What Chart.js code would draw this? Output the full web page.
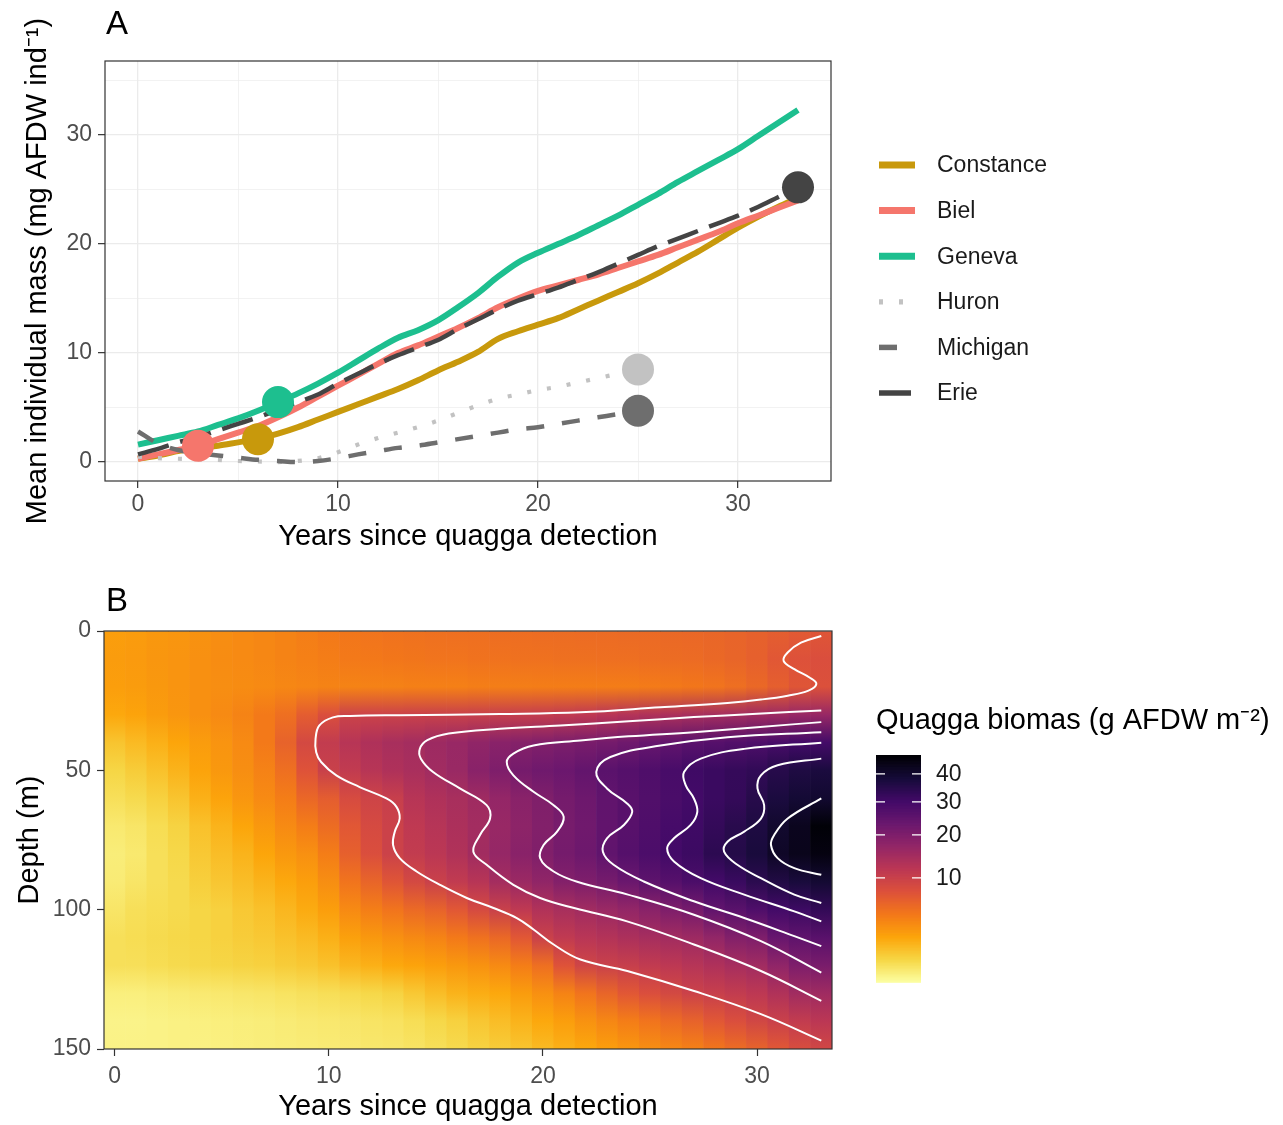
<!DOCTYPE html>
<html>
<head>
<meta charset="utf-8">
<script src="https://cdn.jsdelivr.net/npm/chart.js@4.4.1/dist/chart.umd.min.js"></script>
<style>
  html, body { margin: 0; padding: 0; background: #ffffff; }
  #wrap { position: relative; width: 1283px; height: 1125px; }
  canvas { position: absolute; left: 0; }
  #massChart { top: 0; }
  #depthChart { top: 570px; }
</style>
</head>
<body>
<div id="wrap">
  <canvas id="massChart" width="1283" height="570"></canvas>
  <canvas id="depthChart" width="1283" height="555"></canvas>
</div>
<script>
// ---------- Panel A: mean individual mass per lake ----------
const years = [0,1,2,3,4,5,6,7,8,9,10,11,12,13,14,15,16,17,18,19,20,21,22,23,24,25,26,27,28,29,30,31,32,33];
const lakes = ['Constance', 'Biel', 'Geneva', 'Huron', 'Michigan', 'Erie'];

const massConstance = [0.3,0.6,1.0,1.3,1.5,1.8,2.1,2.6,3.2,3.9,4.6,5.3,6.0,6.7,7.5,8.4,9.2,10.1,11.3,12.0,12.6,13.2,14.0,14.8,15.6,16.4,17.3,18.3,19.3,20.4,21.5,22.5,23.4,24.2];
const massBiel      = [0.3,0.7,1.1,1.5,2.1,2.7,3.3,4.1,5.0,6.0,7.0,8.0,9.0,10.0,10.7,11.5,12.3,13.2,14.2,15.0,15.7,16.2,16.7,17.2,17.8,18.4,19.0,19.7,20.4,21.1,21.9,22.6,23.3,24.0];
const massGeneva    = [1.6,2.0,2.4,2.8,3.4,4.0,4.7,5.5,6.3,7.2,8.2,9.3,10.4,11.4,12.1,13.0,14.2,15.5,17.0,18.3,19.2,20.0,20.8,21.7,22.6,23.6,24.6,25.7,26.7,27.7,28.7,29.9,31.1,32.3];
const massHuron     = [0.5,0.35,0.3,0.25,0.2,0.1,0.05,0.0,0.1,0.35,0.9,1.6,2.2,2.7,3.2,3.8,4.5,5.2,5.8,6.2,6.6,6.9,7.3,7.7,8.1,8.5];
const massMichigan  = [2.8,1.7,1.1,0.8,0.6,0.4,0.2,0.1,0.0,0.1,0.35,0.7,1.0,1.3,1.5,1.8,2.1,2.4,2.7,3.0,3.2,3.5,3.8,4.1,4.4,4.7];
const massErie      = [0.7,1.2,1.8,2.3,2.9,3.5,4.1,4.8,5.5,6.2,7.2,8.1,9.0,9.8,10.5,11.2,12.2,13.1,14.0,14.8,15.4,16.0,16.7,17.4,18.2,19.0,19.8,20.5,21.2,21.9,22.6,23.4,24.3,25.2];
const markerYears   = [6, 3, 7, 25, 25, 33];

const massTicksX = [0, 5, 10, 15, 20, 25, 30];
const massTicksY = [0, 5, 10, 15, 20, 25, 30, 35];

// ---------- Panel B: biomass by depth and year ----------
const depthRows = [0,10,20,30,40,50,60,70,80,90,100,110,120,130,140,150];
const bio000 = [2.2,2.3,2.5,2.6,2.8,3.0,3.2,3.4,3.6,3.9,4.2,4.4,4.6,4.7,4.8,4.9,5.0,5.0,5.1,5.1,5.2,5.2,5.3,5.3,5.4,5.4,5.5,5.6,5.7,5.9,6.1,6.4,6.8,7.2];
const bio010 = [2.3,2.4,2.6,2.7,2.9,3.1,3.2,3.4,3.6,3.8,4.0,4.2,4.3,4.4,4.5,4.6,4.6,4.7,4.7,4.8,4.8,4.9,4.9,5.0,5.0,5.1,5.2,5.3,5.5,5.8,6.2,7.0,7.6,8.0];
const bio020 = [2.2,2.3,2.5,2.7,2.9,3.0,3.1,3.2,3.4,3.5,3.6,3.6,3.7,3.7,3.8,3.8,3.8,3.9,3.9,3.9,4.0,4.0,4.0,4.0,4.0,4.1,4.2,4.4,4.6,5.0,5.5,6.3,7.2,7.8];
const bio030 = [1.8,2.0,2.3,2.6,2.9,3.2,3.6,4.2,5.0,6.5,8.0,9.8,9.9,10.0,10.1,10.2,10.2,10.3,10.5,10.7,10.8,11.2,11.5,12.3,12.8,13.3,13.8,14.3,14.7,15.0,15.5,15.8,16.5,16.5];
const bio040 = [0.9,1.2,1.5,1.9,2.3,2.7,3.2,4.2,6.0,8.8,11.0,12.5,13.5,14.3,14.8,15.8,16.5,17.5,18.5,19.2,19.8,20.5,21.0,21.5,22.5,23.8,24.8,26.0,26.8,27.5,28.2,29.3,30.5,30.0];
const bio050 = [0.5,0.7,1.0,1.4,2.0,2.5,3.0,3.7,5.0,7.5,10.2,11.2,12.5,13.5,14.2,15.3,16.3,18.5,20.2,21.5,22.5,23.2,24.5,26.0,27.0,28.0,29.3,31.0,31.8,32.8,33.5,35.3,36.8,37.5];
const bio060 = [0.3,0.4,0.6,0.9,1.5,2.0,2.6,3.2,4.0,5.6,6.5,8.5,9.6,10.4,12.5,13.5,14.3,15.5,17.0,18.5,20.1,21.5,22.8,24.8,26.3,27.6,29.0,30.2,31.8,33.0,35.3,37.5,39.2,40.0];
const bio070 = [0.15,0.2,0.35,0.55,1.0,1.4,1.9,2.5,3.2,4.0,5.2,7.0,8.6,9.9,11.5,12.6,13.8,15.0,16.5,18.0,19.6,21.2,22.3,24.7,26.5,28.0,29.8,31.0,33.0,35.0,37.0,40.3,43.0,47.0];
const bio080 = [0.1,0.15,0.3,0.45,0.8,1.1,1.4,1.9,2.5,2.9,4.0,6.2,8.0,9.9,11.0,12.0,13.3,15.2,16.8,18.5,19.9,21.5,22.8,25.0,27.0,28.5,30.3,31.5,34.3,35.8,38.0,41.5,43.5,45.5];
const bio090 = [0.12,0.2,0.3,0.4,0.65,0.85,1.1,1.4,1.8,2.2,3.0,4.6,5.8,7.2,8.8,10.1,11.2,12.5,14.8,16.0,17.5,19.5,20.2,21.5,23.3,25.5,26.8,28.8,30.2,32.0,34.6,36.5,38.0,39.5];
const bio100 = [0.2,0.3,0.35,0.4,0.5,0.6,0.8,1.0,1.3,1.7,2.2,3.2,3.9,4.6,5.4,6.0,7.0,8.6,10.2,11.5,13.2,14.3,15.2,16.2,17.2,18.6,20.2,21.4,24.9,26.2,28.0,30.2,31.3,33.2];
const bio110 = [0.3,0.35,0.4,0.45,0.5,0.6,0.7,0.8,1.0,1.2,1.5,2.1,2.5,2.9,3.3,3.6,4.2,4.8,5.5,7.0,10.1,11.3,12.3,13.0,13.8,14.6,15.1,15.8,17.3,19.6,20.2,23.8,25.2,26.3];
const bio120 = [0.3,0.3,0.35,0.4,0.45,0.5,0.55,0.6,0.7,0.8,1.0,1.3,1.5,1.8,2.0,2.2,2.5,2.8,3.2,4.0,5.0,7.5,9.4,10.1,10.5,11.2,11.8,12.6,13.5,14.4,15.3,17.6,20.2,21.0];
const bio130 = [0.08,0.08,0.1,0.12,0.14,0.16,0.18,0.2,0.24,0.28,0.32,0.38,0.45,0.55,0.8,1.1,1.4,1.6,1.8,2.3,2.9,3.6,4.6,5.8,7.0,8.0,8.9,9.9,10.4,11.0,11.8,13.3,15.2,15.5];
const bio140 = [0.04,0.04,0.05,0.06,0.07,0.08,0.09,0.1,0.12,0.14,0.16,0.18,0.22,0.25,0.33,0.45,0.6,0.85,1.1,1.4,1.8,2.2,2.8,3.4,4.0,4.6,5.3,6.0,7.0,8.0,9.2,10.1,11.0,12.0];
const bio150 = [0.05,0.05,0.05,0.06,0.06,0.07,0.08,0.09,0.1,0.11,0.12,0.14,0.17,0.18,0.22,0.3,0.4,0.55,0.7,0.9,1.2,1.5,1.8,2.2,2.6,3.0,3.4,3.8,4.5,5.2,6.0,7.0,8.2,9.2];

// Contour paths [year, depth] for levels 10..40 g AFDW m-2
const contour10 = [[33,1.8],[32.05,4.2],[31.43,7.7],[31.24,10.7],[31.74,13.7],[32.45,16.7],[32.77,19],[32.4,21.4],[31.43,23.2],[30.18,24.6],[28.62,25.8],[25.49,27.4],[21.75,29.2],[18,29.8],[13.3,30.2],[11,30.5],[10.19,31],[9.56,33.9],[9.38,38.7],[9.41,43.5],[9.64,47],[10.35,51.8],[11.44,56],[12.69,60.1],[13.16,63.1],[13.31,67.3],[13.08,72],[13.0,76.8],[13.31,81.5],[14.1,86.3],[15.19,91.1],[16.44,95.8],[17.69,99.4],[18.78,103],[19.56,107.1],[20.5,112.5],[21.75,117.9],[23.94,122],[27.06,129.2],[30.18,137.5],[33,147]];
const contour15 = [[33,28.5],[30,29.7],[27.05,30.9],[24,32.4],[20.81,33.9],[18,35.1],[15.6,36.8],[14.6,39.2],[14.25,42.3],[14.3,45.8],[14.87,50.6],[16.12,56.5],[17.37,62.5],[17.53,67.3],[17.06,73.2],[16.75,79.2],[17.37,83.9],[18.62,91.1],[19.87,95.8],[21.5,99.5],[23.93,104.2],[27.05,112.5],[30.18,122],[33,132.7]];
const contour20 = [[33,32.7],[30,34.5],[27.05,36.3],[24,37.8],[21.75,39.3],[19.56,41.1],[18.62,44],[18.31,47],[18.62,51.8],[19.56,57.7],[20.5,62.5],[20.97,66.7],[20.66,72],[20.03,76.8],[19.87,81.5],[20.5,86.3],[21.6,90],[23.93,94.5],[27.05,101.8],[30.18,111.3],[33,122.6]];
const contour25 = [[33,36.3],[28.62,38.1],[25.49,41.1],[23.15,45.2],[22.49,50.6],[22.99,56.5],[23.93,61.9],[24.17,64.9],[23.78,69.6],[22.99,74.4],[22.8,79.2],[23.3,83.9],[24.71,89.9],[27.05,97],[29.4,103],[31.74,109.5],[33,113.1]];
const contour30 = [[33,40.1],[29.4,42.3],[27.37,45.8],[26.59,50.6],[26.67,55.4],[27.05,60.1],[27.21,64.9],[26.9,69.6],[26.12,74.4],[25.8,78],[26.12,82.7],[27.37,88.7],[29.4,94.6],[31.74,100.6],[33,104.2]];
const contour35 = [[33,45.8],[30.96,48.2],[30.18,51.8],[30.02,56.5],[30.33,62.5],[30.18,67.3],[29.4,72],[28.62,75.6],[28.46,79.2],[29.08,83.9],[30.18,88.7],[31.74,94.6],[33,97.6]];
const contour40 = [[33,60.1],[31.43,67.3],[30.8,73.2],[30.65,76.8],[30.96,81.5],[31.74,85.1],[33,87.5]];

const depthTicksX = [0, 10, 20, 30];
const depthTicksY = [0, 50, 100, 150];
const colorbarTicks = [10, 20, 30, 40];
const bioMin = 0;
const bioMax = 47.6;

// ---------- shared styling ----------
const FONT = '"Liberation Sans", Arial, Helvetica, sans-serif';
Chart.defaults.font.family = FONT;

const massSeries = [massConstance, massBiel, massGeneva, massHuron, massMichigan, massErie];
const lakeColors = ['#C8990C', '#F5766C', '#1DBF8F', '#C2C2C2', '#6E6E6E', '#444444'];
const lakeWidths = [6, 6, 6, 4.2, 4.5, 4.5];
const lakeDashes = [[], [], [], [4, 16], [18, 18], [32, 12]];

const biomassByDepth = [bio000, bio010, bio020, bio030, bio040, bio050, bio060, bio070,
                        bio080, bio090, bio100, bio110, bio120, bio130, bio140, bio150];
const contourLevels = [contour10, contour15, contour20, contour25, contour30, contour35, contour40];

// inferno palette, read from high (dark) to low (light) through a square-root transform
const inferno = ['#000004','#160B39','#420A68','#6A176E','#932667','#BC3754',
                 '#DD513A','#F37819','#FCA50A','#F6D746','#FCFFA4'];
function hexToRgb(h) { return [parseInt(h.slice(1,3),16), parseInt(h.slice(3,5),16), parseInt(h.slice(5,7),16)]; }
const infernoRgb = inferno.map(hexToRgb);
function infernoAt(t) {
  t = Math.min(1, Math.max(0, t));
  const p = t * (infernoRgb.length - 1);
  const i = Math.min(infernoRgb.length - 2, Math.floor(p));
  const f = p - i;
  const a = infernoRgb[i], b = infernoRgb[i + 1];
  return 'rgb(' + a.map((c, k) => Math.round(c + (b[k] - c) * f)).join(',') + ')';
}
function sqrtPos(v) {
  return (Math.sqrt(Math.max(v, bioMin)) - Math.sqrt(bioMin)) / (Math.sqrt(bioMax) - Math.sqrt(bioMin));
}
function bioColor(v) { return infernoAt(1 - sqrtPos(v)); }

function fixedTicks(list) { return (scale) => { scale.ticks = list.map(v => ({ value: v })); }; }

// ---------- Panel A chart ----------
const lineSets = lakes.map((name, i) => ({
  label: name,
  data: massSeries[i].map((v, k) => ({ x: years[k], y: v })),
  borderColor: lakeColors[i],
  borderWidth: lakeWidths[i],
  borderDash: lakeDashes[i],
  borderCapStyle: 'butt',
  pointRadius: 0,
  fill: false,
  cubicInterpolationMode: 'monotone',
  order: 20 - i
}));
const markerSets = lakes.map((name, i) => ({
  label: name + ' start',
  data: [{ x: markerYears[i], y: massSeries[i][years.indexOf(markerYears[i])] }],
  showLine: false,
  pointRadius: 16,
  pointBackgroundColor: lakeColors[i],
  pointBorderWidth: 0,
  order: 1
}));

const massDecor = {
  id: 'massDecor',
  afterDatasetsDraw(chart) {
    const { ctx, chartArea: a } = chart;
    ctx.save();
    ctx.strokeStyle = '#333333';
    ctx.lineWidth = 1.2;
    ctx.strokeRect(a.left, a.top, a.right - a.left, a.bottom - a.top);
    ctx.restore();
  },
  afterDraw(chart) {
    const ctx = chart.ctx;
    ctx.save();
    ctx.fillStyle = '#000000';
    ctx.textAlign = 'left';
    ctx.textBaseline = 'alphabetic';
    ctx.font = '33px ' + FONT;
    ctx.fillText('A', 106, 34);
    // legend
    const keyX = 879, keyLen = 36, textX = 937, rowY = 165, rowStep = 45.6;
    ctx.font = '23px ' + FONT;
    ctx.textBaseline = 'middle';
    lakes.forEach((name, i) => {
      const y = rowY + i * rowStep;
      ctx.save();
      ctx.strokeStyle = lakeColors[i];
      ctx.lineWidth = lakeWidths[i] + 1;
      ctx.setLineDash(lakeDashes[i]);
      ctx.lineCap = 'butt';
      ctx.beginPath();
      ctx.moveTo(keyX, y);
      ctx.lineTo(keyX + keyLen, y);
      ctx.stroke();
      ctx.restore();
      ctx.fillStyle = '#1A1A1A';
      ctx.fillText(name, textX, y + 1);
    });
    ctx.restore();
  }
};

const isMajor = (c) => c.tick && Math.round(c.tick.value) % 10 === 0;

new Chart(document.getElementById('massChart'), {
  type: 'line',
  data: { datasets: markerSets.concat(lineSets) },
  options: {
    responsive: false,
    animation: false,
    events: [],
    layout: { autoPadding: false, padding: { left: 0, top: 61, right: 452, bottom: 0 } },
    plugins: { legend: { display: false }, tooltip: { enabled: false } },
    scales: {
      x: {
        type: 'linear', min: -1.65, max: 34.65,
        afterBuildTicks: fixedTicks(massTicksX),
        afterFit: (s) => { s.height = 89; },
        border: { display: false },
        grid: {
          color: '#EBEBEB',
          lineWidth: (c) => isMajor(c) ? 1.3 : 0.65,
          tickColor: (c) => isMajor(c) ? '#333333' : 'rgba(0,0,0,0)',
          tickLength: 7, tickWidth: 1.2
        },
        ticks: {
          autoSkip: false, maxRotation: 0, padding: 3, color: '#4D4D4D',
          font: { size: 23 },
          callback: (v) => (Math.round(v) % 10 === 0 ? String(v) : '')
        },
        title: { display: true, text: 'Years since quagga detection', color: '#000000',
                 font: { size: 29 }, padding: { top: 0, bottom: 15.6 } }
      },
      y: {
        type: 'linear', min: -1.74, max: 36.79,
        afterBuildTicks: fixedTicks(massTicksY),
        afterFit: (s) => { s.width = 105; },
        border: { display: false },
        grid: {
          color: '#EBEBEB',
          lineWidth: (c) => isMajor(c) ? 1.3 : 0.65,
          tickColor: (c) => isMajor(c) ? '#333333' : 'rgba(0,0,0,0)',
          tickLength: 7, tickWidth: 1.2
        },
        ticks: {
          autoSkip: false, padding: 6, color: '#4D4D4D',
          font: { size: 23 },
          callback: (v) => (Math.round(v) % 10 === 0 ? String(v) : '')
        },
        title: { display: true, text: 'Mean individual mass (mg AFDW ind\u207B\u00B9)', color: '#000000',
                 font: { size: 29 }, padding: { top: 20.6, bottom: 0 } }
      }
    }
  },
  plugins: [massDecor]
});

// ---------- Panel B chart ----------
const heatColumns = years.map((yr) => ({ x: yr, y: [depthRows[0], depthRows[depthRows.length - 1]] }));

function columnGradient(c) {
  const chart = c.chart;
  const ys = chart.scales && chart.scales.y;
  if (!ys || c.dataIndex === undefined) return bioColor(0);
  const top = ys.getPixelForValue(depthRows[0]);
  const bot = ys.getPixelForValue(depthRows[depthRows.length - 1]);
  if (!(bot > top)) return bioColor(0);
  const g = chart.ctx.createLinearGradient(0, top, 0, bot);
  depthRows.forEach((d, r) => {
    const pos = (ys.getPixelForValue(d) - top) / (bot - top);
    g.addColorStop(Math.min(1, Math.max(0, pos)), bioColor(biomassByDepth[r][c.dataIndex]));
  });
  return g;
}

const contourSets = contourLevels.map((path, i) => ({
  type: 'line',
  label: 'contour ' + (10 + 5 * i),
  data: path.map((p) => ({ x: p[0], y: p[1] })),
  borderColor: '#FFFFFF',
  borderWidth: 2,
  pointRadius: 0,
  fill: false,
  tension: 0.4,
  order: 0
}));

const depthDecor = {
  id: 'depthDecor',
  afterDatasetsDraw(chart) {
    const { ctx, chartArea: a } = chart;
    ctx.save();
    ctx.strokeStyle = '#333333';
    ctx.lineWidth = 1.2;
    ctx.strokeRect(a.left, a.top, a.right - a.left, a.bottom - a.top);
    ctx.restore();
  },
  afterDraw(chart) {
    const ctx = chart.ctx;
    ctx.save();
    ctx.fillStyle = '#000000';
    ctx.textAlign = 'left';
    ctx.textBaseline = 'alphabetic';
    ctx.font = '33px ' + FONT;
    ctx.fillText('B', 106, 41);

    // colour bar legend
    ctx.font = '29px ' + FONT;
    ctx.fillText('Quagga biomas (g AFDW m\u207B\u00B2)', 876, 159);
    const bx = 876, by = 185, bw = 45, bh = 227, steps = 150;
    for (let k = 0; k < steps; k++) {
      const s0 = k / steps, s1 = (k + 1) / steps;
      const sm = (s0 + s1) / 2;
      const v = Math.pow(Math.sqrt(bioMin) + sm * (Math.sqrt(bioMax) - Math.sqrt(bioMin)), 2);
      ctx.fillStyle = bioColor(v);
      const yTop = by + bh - s1 * bh;
      ctx.fillRect(bx, yTop, bw, bh / steps + 0.8);
    }
    ctx.strokeStyle = '#FFFFFF';
    ctx.lineWidth = 1.2;
    ctx.fillStyle = '#1A1A1A';
    ctx.font = '23px ' + FONT;
    ctx.textBaseline = 'middle';
    colorbarTicks.forEach((v) => {
      const y = by + bh - sqrtPos(v) * bh;
      ctx.beginPath();
      ctx.moveTo(bx, y); ctx.lineTo(bx + 9, y);
      ctx.moveTo(bx + bw - 9, y); ctx.lineTo(bx + bw, y);
      ctx.stroke();
      ctx.fillText(String(v), 936, y + 1);
    });
    ctx.restore();
  }
};

new Chart(document.getElementById('depthChart'), {
  type: 'bar',
  data: {
    datasets: contourSets.concat([{
      type: 'bar',
      label: 'biomass',
      data: heatColumns,
      backgroundColor: columnGradient,
      borderWidth: 0,
      barPercentage: 1,
      categoryPercentage: 1,
      grouped: false,
      order: 10
    }])
  },
  options: {
    responsive: false,
    animation: false,
    events: [],
    layout: { autoPadding: false, padding: { left: 0, top: 61, right: 451, bottom: 0 } },
    plugins: { legend: { display: false }, tooltip: { enabled: false } },
    scales: {
      x: {
        type: 'linear', min: -0.5, max: 33.5, offset: false,
        afterBuildTicks: fixedTicks(depthTicksX),
        afterFit: (s) => { s.height = 76; },
        border: { display: false },
        grid: { drawOnChartArea: false, offset: false, drawTicks: true, tickLength: 7,
                tickColor: '#333333', tickWidth: 1.2 },
        ticks: { autoSkip: false, maxRotation: 0, padding: 7, color: '#4D4D4D', font: { size: 23 } },
        title: { display: true, text: 'Years since quagga detection', color: '#000000',
                 font: { size: 29 }, padding: { top: 0, bottom: 0.6 } }
      },
      y: {
        type: 'linear', min: 0, max: 150, reverse: true,
        afterBuildTicks: fixedTicks(depthTicksY),
        afterFit: (s) => { s.width = 104; },
        border: { display: false },
        grid: { drawOnChartArea: false, drawTicks: true, tickLength: 7,
                tickColor: '#333333', tickWidth: 1.2 },
        ticks: { autoSkip: false, padding: 6, color: '#4D4D4D', font: { size: 23 } },
        title: { display: true, text: 'Depth (m)', color: '#000000',
                 font: { size: 29 }, padding: { top: 12.6, bottom: 0 } }
      }
    }
  },
  plugins: [depthDecor]
});
</script>
</body>
</html>
